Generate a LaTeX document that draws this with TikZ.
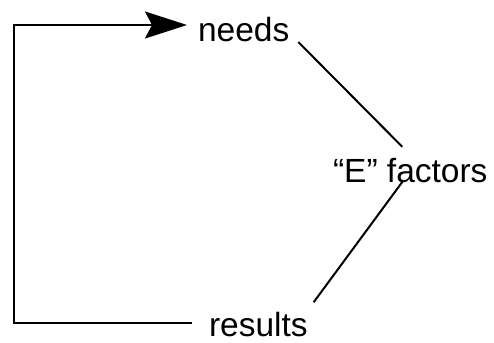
\documentclass[tikz,border=0pt]{standalone}
\usepackage{fontspec}
\setmainfont{Liberation Sans}
\usetikzlibrary{arrows.meta,positioning}

\begin{document}
\begin{tikzpicture}[x=1pt, y=-1pt, line width=2pt,
    lbl/.style={inner sep=0pt, anchor=base west, font=\fontsize{33.5}{40}\selectfont}]
    \useasboundingbox (0,0) rectangle (494,342);
    \node[lbl] (needs) at (197,42) {needs};
    \node[lbl] (factors) at (332,182) {``E'' factors};
    \node[lbl] (results) at (208,336.5) {results};
    \coordinate (top) at (14,25);
    \draw ([xshift=8pt]needs.base east) -- ([shift={(-8pt,10pt)}]factors.north);
    \draw ([xshift=-8pt]factors.base) -- ([shift={(5pt,9pt)}]results.north east);
    \draw[-{Stealth[length=42pt,width=27pt,inset=7pt]}] ([xshift=-16pt]results.west |- 0,323) -- (14,323) -- (top) -- ([xshift=-10pt]needs.west |- top);
\end{tikzpicture}
\end{document}
